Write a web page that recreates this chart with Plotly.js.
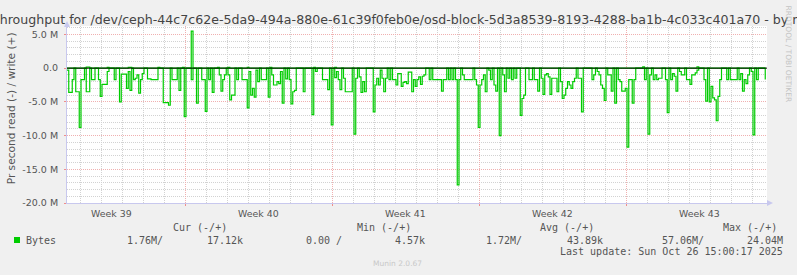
<!DOCTYPE html>
<html>
<head>
<meta charset="utf-8">
<script src="https://cdn.plot.ly/plotly-3.0.1.min.js"></script>
<style>html,body{margin:0;padding:0;background:#f0f0f0;}#chart{width:797px;height:275px;}</style>
</head>
<body>
<div id="chart"></div>
<script>
// ---- data (values in millions of bytes per second, 2-hour samples) ----
const sampleStart = '2025-09-23T09:00:00Z';
const sampleStepHours = 2;

// read throughput (plotted negative, Munin style)
const readM = [
 0.3,3.6,3.6,1.7,0,3.5,3.5,8.8,1.7,1.7,
 0,3.5,3.5,0,1.7,1.7,0,0,1.7,4.2,
 2.4,2.4,2.4,0.5,0,0,0,1.7,0,0,
 5.0,0.9,0.9,0.9,3.0,0.5,3.3,0,1.7,1.5,
 1.0,3.7,1.7,0.8,0,0,1.6,1.6,1.7,1.7,
 1.7,1.7,0,0,0,5.1,5.1,5.1,5.5,0,
 1.7,1.7,1.7,0,3.3,0,0,7.2,0,0,
 0,1.7,0,0,5.2,0,0,1.7,1.7,6.4,
 0,1.7,0,3.6,0,0,0,1.0,3.4,1.7,
 1.0,0,1.0,4.7,4.0,4.0,0,1.7,0,0,
 1.7,1.7,1.7,5.9,0.5,4.0,3.0,4.3,0.3,2.0,
 0,1.7,1.7,1.7,0,4.3,0,1.0,2.5,2.5,
 2.0,2.3,0.5,5.2,0,1.6,0,1.7,5.3,3.5,
 3.3,0,0,0,0,3.5,0,0,0,0,
 6.9,0,0.5,0,0,0,1.7,1.7,1.7,3.2,
 0,8.4,0,1.4,0.5,1.7,3.2,0,1.5,3.5,
 3.5,3.5,3.5,0,9.8,1.5,0,1.3,3.6,2.0,
 3.5,0,0,0,0,6.5,2.5,1.5,2.5,0.3,
 1.5,3.5,1.5,0,1.7,0,1.7,1.7,2.5,0.8,
 0.8,2.7,2.1,2.0,2.3,0.6,0.6,3.5,1.7,2.7,
 1.7,1.3,2.4,1.2,1.0,0,0,1.7,0,1.7,
 1.7,1.7,1.7,1.7,3.4,1.7,1.7,0,1.7,0,
 1.7,0,1.7,17.3,1.7,0,1.0,1.7,1.7,1.7,
 1.7,1.7,0,1.7,2.5,8.8,2.5,1.7,1.0,3.5,
 0,0.3,1.7,0,2.5,3.4,0,10.0,0,1.0,
 3.5,0,1.5,0,1.7,0,1.5,0,0,7.0,
 4.5,4.0,0,0,1.7,1.7,0,1.7,1.7,3.4,
 0,1.5,3.9,1.0,0.8,1.3,3.9,1.5,1.5,1.5,
 3.5,0,2.0,4.5,4.0,3.0,2.0,2.5,3.0,2.0,
 1.5,0,1.5,1.5,6.5,0,0,0,0,0,
 1.7,1.0,0,0.5,1.0,2.5,3.0,4.8,0,1.0,
 1.0,3.4,0,5.2,0,1.7,2.0,3.4,3.4,3.0,
 11.7,1.7,1.7,5.2,1.7,0,0,0,0,0,
 1.7,0,9.8,1.0,0,1.7,1.0,1.7,1.5,1.5,
 0,0,1.7,6.6,0,1.7,0.8,1.2,3.4,0,
 0.5,1.0,1.0,0,1.7,1.7,2.4,1.0,1.0,0.7,
 0.3,0,0,0,1.7,4.9,0,5.0,2.7,4.4,
 4.7,7.8,4.2,1.7,0,0,0,1.7,0,1.7,
 1.7,1.7,1.7,0,1.7,0.8,3.4,1.7,2.3,1.0,
 0,0.5,9.9,0,1.7,0,0,0,0,1.7
];

// write throughput (plotted positive)
const writeM = [
 0,0,0,0,0,0,0,0,0,0,
 0,0.15,0.15,0,0,0,0,0,0,0,
 0,0,0,0.1,0,0,0,0,0,0,
 0,0,0,0,0,0.1,0.1,0,0,0,
 0,0,0,0,0,0,0,0,0,0,
 0,0,0.1,0,0,0,0,0,0,0,
 0,0,0,0,0,0,0.1,0,0,0,
 0,5.5,0,0,0,0,0,0,0,0,
 0,0,0,0,0,0,0.1,0,0,0,
 0,0,0.1,0,0,0,0,0,0,0,
 0,0,0,0.1,0,0,0,0,0,0,
 0,0,0,0,0,0,0.1,0,0,0,
 0,0,0,0,0,0,0,0,0,0,
 0,0,0,0,0,0,0,0,0,0,
 0,0.1,0,0,0,0,0,0,0,0,
 0,0,0,0.1,0,0,0,0,0,0,
 0,0,0,0,0,0,0,0,0,0,
 0,0,0,0,0,0,0,0,0,0,
 0,0,0,0,0,0,0,0,0,0,
 0,0,0,0,0,0,0,0,0,0,
 0,0,0,0,0,0,0,0,0,0,
 0,0,0,0,0,0,0,0,0,0,
 0,0,0,0,0,0,0,0,0,0,
 0,0,0,0,0,0,0,0,0,0,
 0,0,0,0,0,0,0,0,0,0,
 0,0,0,0,0,0,0,0,0,0,
 0,0,0,0,0,0,0,0,0,0,
 0,0,0,0,0,0,0,0,0,0,
 0,0,0,0,0,0,0,0,0,0,
 0,0,0,0,0,0,0,0,0,0,
 0,0,0,0,0,0,0,0,0,0,
 0,0,0,0,0,0,0,0,0,0,
 0,0,0,0,0,0,0,0,0,0.2,
 0,0,0,0,0,0,0,0,0,0,
 0,0,0,0,0,0,0,0,0,0,
 0,0,0,0,0,0,0,0,0,0,
 0.2,0,0,0,0,0,0,0,0,0,
 0,0,0,0,0,0,0,0,0,0,
 0,0,0,0,0,0,0,0,0,0,
 0,0,0,0,0,0,0,0,0,0
];

const yTickVals = [-20, -15, -10, -5, 0, 5];
const yTickText = ['-20.0 M', '-15.0 M', '-10.0 M', '-5.0 M', '0.0', '5.0 M'];
const weekLabels = ['Week 39', 'Week 40', 'Week 41', 'Week 42', 'Week 43'];
const weekMidpoints = ['2025-09-25 12:00', '2025-10-02 12:00', '2025-10-09 12:00', '2025-10-16 12:00', '2025-10-23 12:00'];
const xRange = ['2025-09-23 09:00', '2025-10-26 17:00'];

const legendHeaders = ['Cur (-/+)', 'Min (-/+)', 'Avg (-/+)', 'Max (-/+)'];
const legendValues = ['1.76M/', '17.12k', '0.00 /', '4.57k', '1.72M/', '43.89k', '57.06M/', '24.04M'];
const seriesName = 'Bytes';
const lastUpdate = 'Last update: Sun Oct 26 15:00:17 2025';

// ---- build timestamps ----
const t0 = Date.parse(sampleStart);
function fmt(ms) { return new Date(ms).toISOString().slice(0, 16).replace('T', ' '); }
const times = readM.map((_, i) => fmt(t0 + i * sampleStepHours * 3600000));

const GREEN = '#00cc00';
const traces = [
  { x: times, y: readM.map(v => -v), type: 'scatter', mode: 'lines',
    line: { color: GREEN, width: 1.2, shape: 'hv' }, hoverinfo: 'skip' },
  { x: times, y: writeM, type: 'scatter', mode: 'lines',
    line: { color: GREEN, width: 1.2, shape: 'hv' }, hoverinfo: 'skip' }
];

// pixel -> paper helpers for the surrounding text
const PL = 67, PW = 700, PB = 203, PH = 177;
const PX = x => (x - PL) / PW;
const PY = y => (PB - y) / PH;
const MONO = { family: 'DejaVu Sans Mono', size: 10, color: '#555555' };
function txt(text, x, y, extra) {
  return Object.assign({ text: text, xref: 'paper', yref: 'paper', x: PX(x), y: PY(y),
    xanchor: 'left', yanchor: 'middle', showarrow: false, borderpad: 0, borderwidth: 0,
    font: MONO }, extra || {});
}

const annotations = [];
// title
annotations.push(txt('Throughput for /dev/ceph-44c7c62e-5da9-494a-880e-61c39f0feb0e/osd-block-5d3a8539-8193-4288-ba1b-4c033c401a70 - by month',
  -9, 19, { font: { family: 'DejaVu Sans', size: 12.6, color: '#444444' } }));
// y title
annotations.push(txt('Pr second read (-) / write (+)', 11, 108.3,
  { xanchor: 'center', textangle: -90, font: { family: 'DejaVu Sans', size: 10.6, color: '#555555' } }));
// rrdtool credit
annotations.push(txt('RRDTOOL / TOBI OETIKER', 788, 53.5,
  { xanchor: 'center', textangle: 90, font: { family: 'DejaVu Sans', size: 7.5, color: '#c4c4c4' } }));
// week labels on the date axis
weekLabels.forEach((w, i) => annotations.push({ text: w, xref: 'x', yref: 'paper', x: weekMidpoints[i],
  y: PY(213), xanchor: 'center', yanchor: 'middle', showarrow: false, borderpad: 0,
  font: { family: 'DejaVu Sans', size: 9.4, color: '#555555' } }));
// legend block
const headerX = [173, 356.7, 540, 722.7];
legendHeaders.forEach((h, i) => annotations.push(txt(h, headerX[i], 227.3)));
annotations.push(txt(seriesName, 26, 240));
const valueX = [126.7, 206.7, 306, 394.5, 486, 566.7, 661.7, 746.7];
legendValues.forEach((v, i) => annotations.push(txt(v, valueX[i], 240)));
annotations.push(txt(lastUpdate, 783, 251.7, { xanchor: 'right' }));
annotations.push(txt('Munin 2.0.67', 373, 263.5, { font: { family: 'DejaVu Sans', size: 7.5, color: '#c8c8c8' } }));

const AXIS = '#c8c8ee';
const shapes = [
  // zero rule drawn above the lines, as rrdtool does
  { type: 'line', xref: 'paper', x0: 0, x1: 1, yref: 'y', y0: 0, y1: 0, line: { color: '#000000', width: 1 }, layer: 'above' },
  // legend colour box
  { type: 'rect', xref: 'paper', yref: 'paper', x0: PX(14), x1: PX(20), y0: PY(243), y1: PY(237),
    fillcolor: GREEN, line: { width: 0 } },
  // axis arrows
  { type: 'path', xref: 'paper', yref: 'paper', path: `M ${PX(64)} ${PY(27)} L ${PX(70)} ${PY(27)} L ${PX(67)} ${PY(21)} Z`,
    fillcolor: AXIS, line: { width: 0 } },
  { type: 'path', xref: 'paper', yref: 'paper', path: `M ${PX(767)} ${PY(200)} L ${PX(767)} ${PY(206)} L ${PX(773)} ${PY(203)} Z`,
    fillcolor: AXIS, line: { width: 0 } }
];

const layout = {
  width: 797, height: 275,
  margin: { l: PL, r: 797 - PL - PW, t: 26, b: 275 - PB, pad: 0 },
  paper_bgcolor: '#f0f0f0', plot_bgcolor: '#ffffff',
  showlegend: false,
  font: { family: 'DejaVu Sans', size: 9.5, color: '#555555' },
  xaxis: {
    type: 'date', range: xRange, fixedrange: true,
    tickmode: 'linear', tick0: '2025-09-22', dtick: 7 * 86400000,
    showticklabels: false, ticks: 'outside', ticklen: 2, tickcolor: '#f08c8c',
    showgrid: true, gridcolor: '#f0b0b0', gridwidth: 1, griddash: '1px,1px',
    minor: { tickmode: 'linear', tick0: '2025-09-22', dtick: 86400000, showgrid: true,
      gridcolor: '#d2d2d2', gridwidth: 1, griddash: '1px,1px' },
    showline: true, linecolor: AXIS, linewidth: 1, zeroline: false
  },
  yaxis: {
    range: [-20, 6.25], fixedrange: true,
    tickmode: 'array', tickvals: yTickVals, ticktext: yTickText,
    ticks: 'outside', ticklen: 2, tickcolor: '#f08c8c', ticklabelstandoff: 4,
    tickfont: { family: 'DejaVu Sans', size: 9.5, color: '#555555' },
    showgrid: true, gridcolor: '#f0b0b0', gridwidth: 1, griddash: '1px,1px',
    minor: { tickmode: 'linear', tick0: 0, dtick: 1, showgrid: true,
      gridcolor: '#d2d2d2', gridwidth: 1, griddash: '1px,1px' },
    zeroline: false, showline: true, linecolor: AXIS, linewidth: 1
  },
  annotations: annotations,
  shapes: shapes
};

Plotly.newPlot('chart', traces, layout, { staticPlot: true, displayModeBar: false });
</script>
</body>
</html>
